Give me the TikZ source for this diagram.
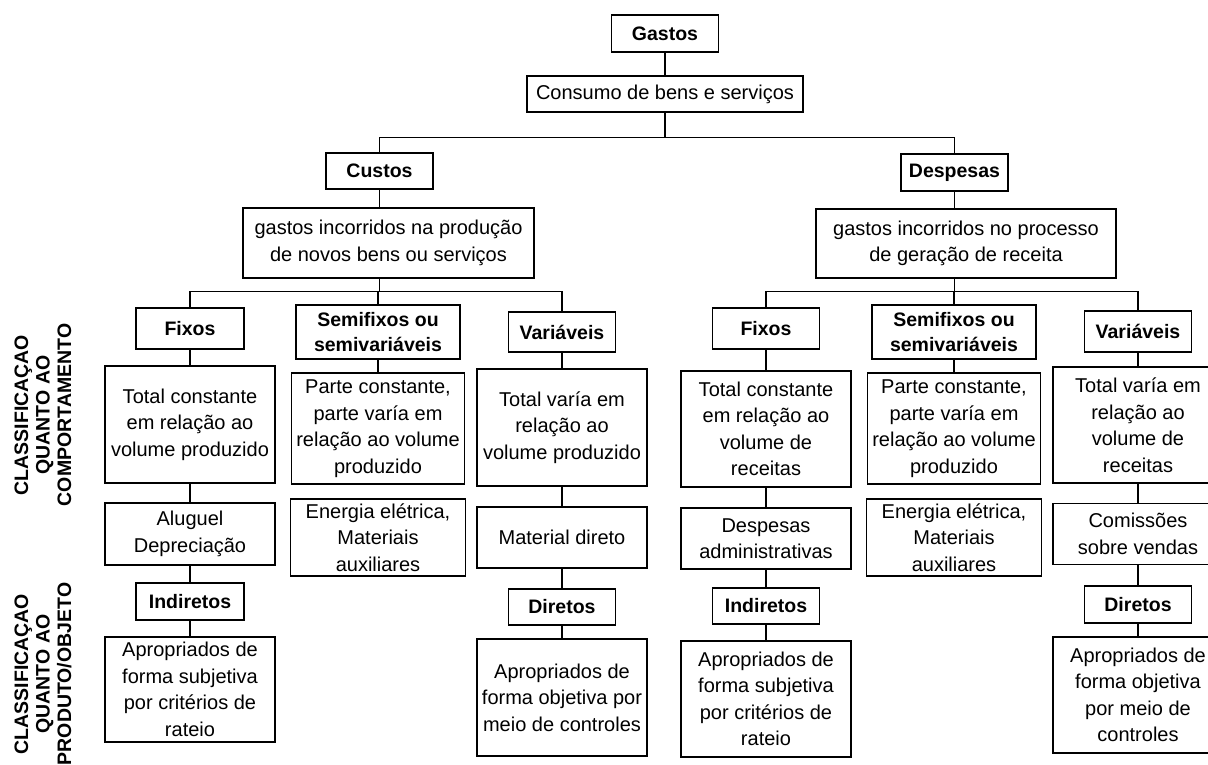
\documentclass[tikz,border=0pt]{standalone}
\usepackage{fontspec}
\setmainfont{Liberation Sans}
\usetikzlibrary{calc}

\begin{document}
\begin{tikzpicture}[
  x=1pt, y=-1pt,
  box/.style={draw, line width=1.4pt, inner sep=0pt, align=center},
  hdr/.style={box, font=\bfseries\fontsize{19.5}{25}\selectfont},
  desc/.style={box, font=\fontsize{20}{26.5}\selectfont},
  link/.style={line width=1.4pt},
  side/.style={rotate=90, align=center, inner sep=0pt,
               font=\bfseries\fontsize{19.5}{21.5}\selectfont},
]
\useasboundingbox (0,0) rectangle (1208,765);

% ============ TOP ============
\node[hdr, minimum width=107, minimum height=37] (gastos) at (665,33.5) {Gastos};
\node[desc, minimum width=276, minimum height=36] (consumo) at (665,94) {Consumo de bens e serviços};
\node[hdr, minimum width=107, minimum height=36] (custos) at (379.5,171) {Custos};
\node[desc, minimum width=291, minimum height=70] (custosdef) at (388.5,243)
     {gastos incorridos na produção\\de novos bens ou serviços};
\node[hdr, minimum width=107, minimum height=37] (despesas) at (954.5,172.5) {Despesas};
\node[desc, minimum width=300, minimum height=69] (despesasdef) at (966,243.5)
     {gastos incorridos no processo\\de geração de receita};

\draw[link] (gastos) -- (consumo);
\draw[link] (consumo.south) -- ++(0,25) -| (custos.north);
\draw[link] (consumo.south) -- ++(0,25) -| (despesas.north);
\draw[link] (custos.south) -- (custos.south |- custosdef.north);
\draw[link] (despesas.south) -- (despesas.south |- despesasdef.north);

% ============ CUSTOS ============
\node[hdr, minimum width=108, minimum height=41] (cfixos) at (190,328.5) {Fixos};
\node[desc, minimum width=170, minimum height=117] (cfixosdef) at (190,424.5)
     {Total constante\\em relação ao\\volume produzido};
\node[desc, minimum width=170, minimum height=62] (cfixosex) at (190,534) {Aluguel\\Depreciação};
\node[hdr, minimum width=108, minimum height=37] (cind) at (190,601.5) {Indiretos};
\node[desc, minimum width=170, minimum height=105] (cinddef) at (190,689.5)
     {Apropriados de\\forma subjetiva\\por critérios de\\rateio};

\node[hdr, minimum width=164, minimum height=54] (csemi) at (378,332) {Semifixos ou\\semivariáveis};
\node[desc, minimum width=173, minimum height=111] (csemidef) at (378,428.5)
     {Parte constante,\\parte varía em\\relação ao volume\\produzido};
\node[desc, minimum width=175, minimum height=77] (csemiex) at (378,537.5)
     {Energia elétrica,\\Materiais\\auxiliares};

\node[hdr, minimum width=107, minimum height=40] (cvar) at (562,332) {Variáveis};
\node[desc, minimum width=170, minimum height=117] (cvardef) at (562,427.5)
     {Total varía em\\relação ao\\volume produzido};
\node[desc, minimum width=170, minimum height=61] (cvarex) at (562,537.5) {Material direto};
\node[hdr, minimum width=107, minimum height=36] (cdir) at (562,607) {Diretos};
\node[desc, minimum width=170, minimum height=117] (cdirdef) at (562,697.5)
     {Apropriados de\\forma objetiva por\\meio de controles};

\draw[link] (custos.south |- custosdef.south) -- ++(0,13) -| (cfixos.north);
\draw[link] (custos.south |- custosdef.south) -- ++(0,13) -| (csemi.north);
\draw[link] (custos.south |- custosdef.south) -- ++(0,13) -| (cvar.north);
\draw[link] (cfixos) -- (cfixosdef) -- (cfixosex) -- (cind) -- (cinddef);
\draw[link] (csemi) -- (csemidef);
\draw[link] (cvar) -- (cvardef) -- (cvarex) -- (cdir) -- (cdirdef);

% ============ DESPESAS ============
\node[hdr, minimum width=107, minimum height=41] (dfixos) at (766,328.5) {Fixos};
\node[desc, minimum width=170, minimum height=116] (dfixosdef) at (766,429)
     {Total constante\\em relação ao\\volume de\\receitas};
\node[desc, minimum width=170, minimum height=61] (dfixosex) at (766,538.5) {Despesas\\administrativas};
\node[hdr, minimum width=107, minimum height=36] (dind) at (766,606) {Indiretos};
\node[desc, minimum width=170, minimum height=116] (dinddef) at (766,699)
     {Apropriados de\\forma subjetiva\\por critérios de\\rateio};

\node[hdr, minimum width=164, minimum height=54] (dsemi) at (954,332) {Semifixos ou\\semivariáveis};
\node[desc, minimum width=173, minimum height=111] (dsemidef) at (954,428.5)
     {Parte constante,\\parte varía em\\relação ao volume\\produzido};
\node[desc, minimum width=175, minimum height=77] (dsemiex) at (954,537.5)
     {Energia elétrica,\\Materiais\\auxiliares};

\node[hdr, minimum width=107, minimum height=41] (dvar) at (1138,331.5) {Variáveis};
\node[desc, minimum width=170, minimum height=116] (dvardef) at (1138,425)
     {Total varía em\\relação ao\\volume de\\receitas};
\node[desc, minimum width=170, minimum height=61] (dvarex) at (1138,534) {Comissões\\sobre vendas};
\node[hdr, minimum width=107, minimum height=37] (ddir) at (1138,604.5) {Diretos};
\node[desc, minimum width=170, minimum height=116] (ddirdef) at (1138,695)
     {Apropriados de\\forma objetiva\\por meio de\\controles};

\draw[link] (despesas.south |- despesasdef.south) -- ++(0,13) -| (dfixos.north);
\draw[link] (despesas.south |- despesasdef.south) -- ++(0,13) -| (dsemi.north);
\draw[link] (despesas.south |- despesasdef.south) -- ++(0,13) -| (dvar.north);
\draw[link] (dfixos) -- (dfixosdef) -- (dfixosex) -- (dind) -- (dinddef);
\draw[link] (dsemi) -- (dsemidef);
\draw[link] (dvar) -- (dvardef) -- (dvarex) -- (ddir) -- (ddirdef);

% ============ SIDE LABELS ============
\node[side] (compor) at (43,415) {CLASSIFICAÇAO\\QUANTO AO\\COMPORTAMENTO};
\node[side] (produto) at (43,674) {CLASSIFICAÇAO\\QUANTO AO\\PRODUTO/OBJETO};

\end{tikzpicture}
\end{document}
